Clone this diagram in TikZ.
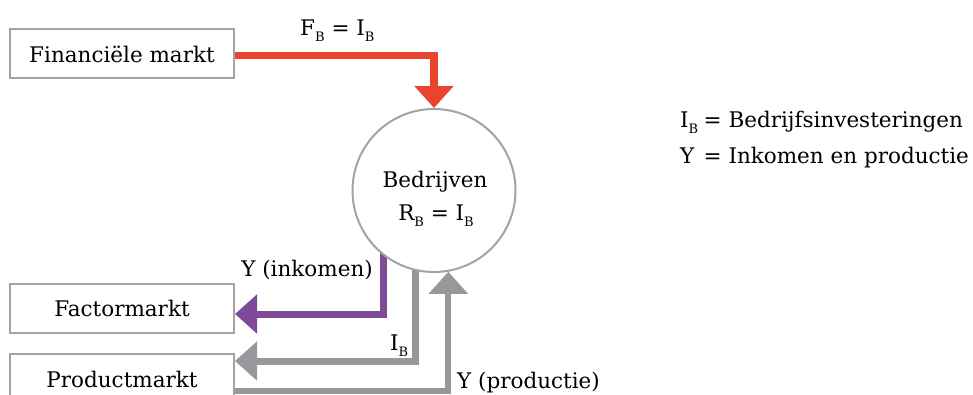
\documentclass[tikz,border=0pt]{standalone}
\usepackage{fontspec}
\setmainfont{DejaVu Serif}
\usetikzlibrary{arrows.meta}
\definecolor{cred}{RGB}{232,68,46}
\definecolor{cpurple}{RGB}{127,75,152}
\definecolor{carrowgray}{RGB}{152,152,156}
\definecolor{cboxgray}{RGB}{163,163,163}
\newcommand{\mysub}[1]{\raisebox{-6pt}{\fontsize{13}{13}\selectfont #1}}
\pgfdeclarelayer{background}
\pgfsetlayers{background,main}
\tikzset{
  txt/.style={font=\fontsize{21.5}{26}\selectfont, inner sep=0pt},
  mbox/.style={txt, draw=cboxgray, line width=2pt, fill=white,
    minimum width=224pt, minimum height=49pt, text height=17pt, text depth=0pt},
  flow/.style={line width=7pt, line join=miter,
    -{Triangle[width=38pt,length=22pt]}},
  redflow/.style={flow, line width=7.5pt, draw=cred},
  purpleflow/.style={flow, draw=cpurple},
  grayflow/.style={flow, draw=carrowgray},
  grayline/.style={flow, line width=6pt, draw=carrowgray},
}
\begin{document}
\begin{tikzpicture}[x=1pt,y=-1pt]
\useasboundingbox (0,0) rectangle (973,394);

\node[mbox] (fin) at (122,53.5) {Financiële markt};
\node[mbox] (fac) at (122,308) {Factormarkt};
\node[mbox] (prod) at (122,378.5) {Productmarkt};

\node[circle, draw=cboxgray, line width=2pt, fill=white, minimum size=163pt, inner sep=0pt] (circ) at (434,190.5) {};
\node[txt, anchor=base] (bedr) at (435,187) {Bedrijven};
\node[txt, anchor=base] (rb) at (436,220) {R\mysub{B} = I\mysub{B}};

\begin{pgfonlayer}{background}
\fill[white] (0,0) rectangle (973,394);
\draw[redflow] ([yshift=-2pt]fin.east) -| (circ.north);
\draw[purpleflow] ([yshift=6pt]circ.-128.5) |- ([yshift=-6pt]fac.east);
\draw[grayflow] ([yshift=6pt]circ.-103.4) |- ([yshift=17.5pt]prod.east);
\draw[grayline] ([yshift=-12.5pt]prod.east) -| (circ.-80.9);
\end{pgfonlayer}

\node[txt, anchor=base west] (fb) at (300,35) {F\mysub{B} = I\mysub{B}};
\node[txt, anchor=base east] (yink) at (373,276) {Y (inkomen)};
\node[txt, anchor=base west] (ib) at (390,350) {I\mysub{B}};
\node[txt, anchor=base west] (yprod) at (457,388) {Y (productie)};

\node[txt, anchor=base west] (leg1) at (680,127) {\makebox[23.5pt][l]{I\mysub{B}}= Bedrijfsinvesteringen};
\node[txt, anchor=base west] (leg2) at (680,163) {\makebox[23.5pt][l]{Y}= Inkomen en productie};
\end{tikzpicture}
\end{document}
